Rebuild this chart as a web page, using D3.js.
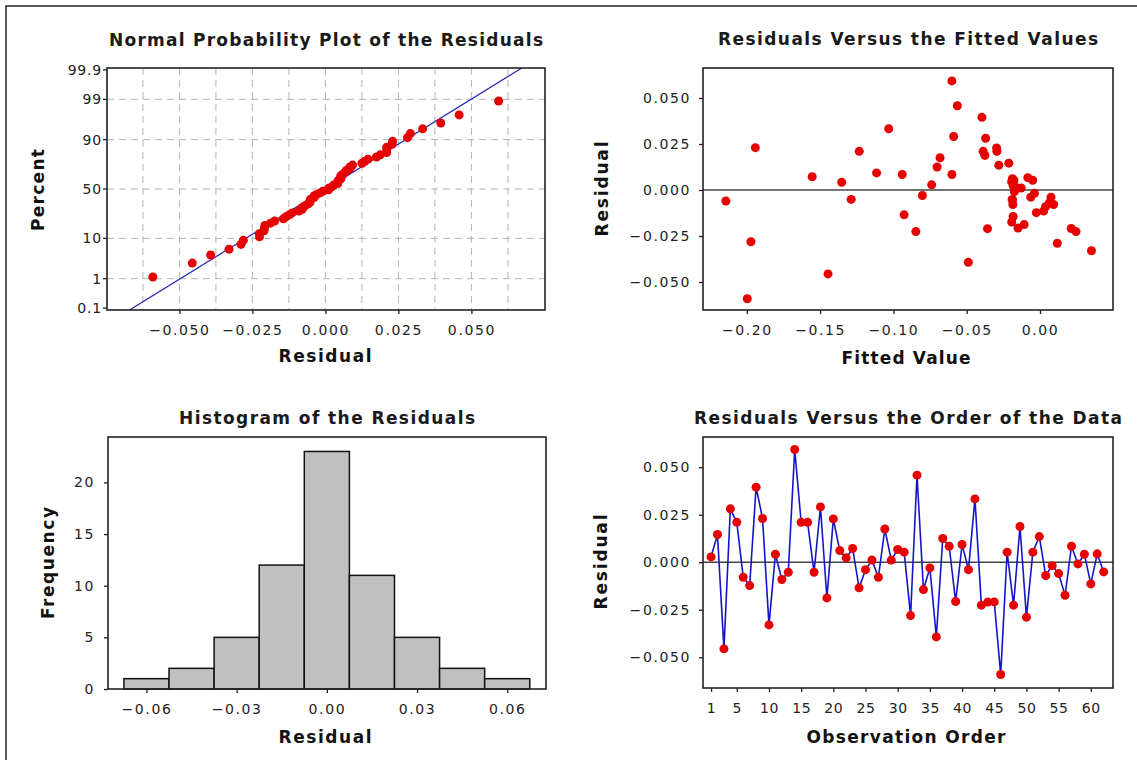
<!DOCTYPE html>
<html>
<head>
<meta charset="utf-8">
<script src="https://cdn.jsdelivr.net/npm/d3@7"></script>
<style>
  body { margin: 0; background: #fff; }
  svg { display: block; font-family: "DejaVu Sans", Verdana, sans-serif; }
  .tick line { stroke: #222; stroke-width: 1.3; }
  .title { font-size: 17px; font-weight: bold; fill: #1a1a1a; }
  .alabel { font-size: 17px; font-weight: bold; fill: #111; }
</style>
</head>
<body>
<svg id="chart" width="1137" height="760"></svg>
<script>
// residuals in observation order
const residuals = [
  0.0028, 0.0146, -0.0456, 0.0281, 0.0210, -0.0079, -0.0123, 0.0395, 0.0230, -0.0330,
  0.0042, -0.0091, -0.0053, 0.0593, 0.0210, 0.0210, -0.0053, 0.0291, -0.0188, 0.0228,
  0.0061, 0.0023, 0.0072, -0.0135, -0.0039, 0.0011, -0.0079, 0.0175, 0.0011, 0.0067,
  0.0053, -0.0281, 0.0458, -0.0144, -0.0030, -0.0393, 0.0125, 0.0084, -0.0207, 0.0093,
  -0.0039, 0.0333, -0.0226, -0.0210, -0.0209, -0.0591, 0.0053, -0.0226, 0.0188, -0.0289,
  0.0053, 0.0135, -0.0070, -0.0018, -0.0060, -0.0174, 0.0084, -0.0009, 0.0042, -0.0114,
  0.0044, -0.0051
];

// fitted values, same order
const fitted = [
  -0.0739, -0.0213, -0.1446, -0.0371, -0.0388, -0.0185, -0.0025, -0.0396, -0.1942, 0.0351,
  -0.1353, 0.0038, -0.0188, -0.0601, -0.1233, -0.0294, -0.0190, -0.0589, -0.0108, -0.0296,
  -0.0188, -0.0183, -0.1554, -0.0927, -0.0063, -0.0153, 0.0093, -0.0682, -0.0128, -0.0083,
  -0.0190, -0.1972, -0.0564, -0.0183, -0.0802, -0.0489, -0.0702, -0.0940, -0.0150, -0.1115,
  0.0075, -0.1032, 0.0246, -0.0358, 0.0213, -0.1997, -0.0050, -0.0847, -0.0376, 0.0118,
  -0.0178, -0.0281, 0.0063, -0.0038, -0.2143, -0.0193, -0.0601, -0.0175, -0.0185, 0.0025,
  -0.0193, -0.1288
];

const percentTicks = [0.1, 1, 10, 50, 90, 99, 99.9];
const percentGrid = [1, 10, 50, 90, 99];
const nppResidualTicks = [-0.05, -0.025, 0, 0.025, 0.05];
const nppResidualGrid = [-0.0625, -0.05, -0.0375, -0.025, -0.0125, 0, 0.0125, 0.025, 0.0375, 0.05, 0.0625];
const histBinEdges = [-0.0675, -0.0525, -0.0375, -0.0225, -0.0075, 0.0075, 0.0225, 0.0375, 0.0525, 0.0675];
const histTicks = [-0.06, -0.03, 0, 0.03, 0.06];
const freqTicks = [0, 5, 10, 15, 20];
const fittedTicks = [-0.2, -0.15, -0.1, -0.05, 0];
const residualTicks = [-0.05, -0.025, 0, 0.025, 0.05];
const orderTicks = [1, 5, 10, 15, 20, 25, 30, 35, 40, 45, 50, 55, 60];

// inverse normal cdf (Acklam)
function normInv(p) {
  const a = [-3.969683028665376e+01, 2.209460984245205e+02, -2.759285104469687e+02, 1.383577518672690e+02, -3.066479806614716e+01, 2.506628277459239e+00];
  const b = [-5.447609879822406e+01, 1.615858368580409e+02, -1.556989798598866e+02, 6.680131188771972e+01, -1.328068155288572e+01];
  const c = [-7.784894002430293e-03, -3.223964580411365e-01, -2.400758277161838e+00, -2.549732539343734e+00, 4.374664141464968e+00, 2.938163982698783e+00];
  const d = [7.784695709041462e-03, 3.224671290700398e-01, 2.445134137142996e+00, 3.754408661907416e+00];
  const pl = 0.02425;
  let q, r;
  if (p < pl) {
    q = Math.sqrt(-2 * Math.log(p));
    return (((((c[0]*q+c[1])*q+c[2])*q+c[3])*q+c[4])*q+c[5]) / ((((d[0]*q+d[1])*q+d[2])*q+d[3])*q+1);
  }
  if (p > 1 - pl) {
    q = Math.sqrt(-2 * Math.log(1 - p));
    return -(((((c[0]*q+c[1])*q+c[2])*q+c[3])*q+c[4])*q+c[5]) / ((((d[0]*q+d[1])*q+d[2])*q+d[3])*q+1);
  }
  q = p - 0.5; r = q * q;
  return (((((a[0]*r+a[1])*r+a[2])*r+a[3])*r+a[4])*r+a[5])*q / (((((b[0]*r+b[1])*r+b[2])*r+b[3])*r+b[4])*r+1);
}

const RED = '#e60000';
const svg = d3.select('#chart');

// outer frame (only top/left visible)
svg.append('rect')
  .attr('x', 6).attr('y', 6).attr('width', 1300).attr('height', 900)
  .attr('fill', 'none').attr('stroke', '#222').attr('stroke-width', 1.5);

function styleTicks(g) {
  g.selectAll('text')
    .attr('font-family', '"DejaVu Sans", Verdana, sans-serif')
    .style('font-size', '14px')
    .style('letter-spacing', '1.6px')
    .attr('fill', '#222');
}
function titleText(cx, cy, txt, len) {
  svg.append('text').attr('class', 'title')
    .attr('x', cx).attr('y', cy).attr('dy', '0.36em')
    .attr('text-anchor', 'middle')
    .attr('textLength', len).attr('lengthAdjust', 'spacing')
    .text(txt);
}
function xLabel(cx, cy, txt, len) {
  svg.append('text').attr('class', 'alabel')
    .attr('x', cx).attr('y', cy).attr('dy', '0.36em')
    .attr('text-anchor', 'middle')
    .attr('textLength', len).attr('lengthAdjust', 'spacing')
    .text(txt);
}
function yLabel(cx, cy, txt, len) {
  svg.append('text').attr('class', 'alabel')
    .attr('transform', `translate(${cx},${cy}) rotate(-90)`)
    .attr('dy', '0.36em')
    .attr('text-anchor', 'middle')
    .attr('textLength', len).attr('lengthAdjust', 'spacing')
    .text(txt);
}
function frame(b) {
  svg.append('rect')
    .attr('x', b.x0).attr('y', b.y0)
    .attr('width', b.x1 - b.x0).attr('height', b.y1 - b.y0)
    .attr('fill', 'none').attr('stroke', '#222').attr('stroke-width', 1.6);
}
function bottomAxis(b, scale, ticks, fmt) {
  svg.append('g')
    .attr('transform', `translate(0,${b.y1})`)
    .call(d3.axisBottom(scale).tickValues(ticks).tickFormat(fmt).tickSizeInner(4).tickSizeOuter(0).tickPadding(11))
    .call(g => g.select('.domain').remove())
    .call(styleTicks);
}
function leftAxis(b, scale, ticks, fmt, pad) {
  svg.append('g')
    .attr('transform', `translate(${b.x0},0)`)
    .call(d3.axisLeft(scale).tickValues(ticks).tickFormat(fmt).tickSizeInner(4).tickSizeOuter(0).tickPadding(pad))
    .call(g => g.select('.domain').remove())
    .call(styleTicks);
}

// ---------- Normal probability plot ----------
{
  const b = { x0: 107, x1: 545, y0: 68, y1: 310 };
  const x = d3.scaleLinear().domain([-0.0748, 0.0752]).range([b.x0, b.x1]);
  const y = d3.scaleLinear().domain([-3.14, 3.14]).range([b.y1, b.y0]);
  const n = residuals.length;
  const sorted = residuals.slice().sort(d3.ascending);
  const pts = sorted.map((r, i) => ({ r, z: normInv((i + 1 - 0.3) / (n + 0.4)) }));
  const mean = d3.mean(residuals), sd = d3.deviation(residuals);

  const grid = svg.append('g').attr('stroke', '#b4b4b4').attr('stroke-width', 1).attr('stroke-dasharray', '7,5');
  grid.selectAll('.vg').data(nppResidualGrid).join('line')
    .attr('x1', d => x(d)).attr('x2', d => x(d)).attr('y1', b.y0).attr('y2', b.y1);
  grid.selectAll('.hg').data(percentGrid).join('line')
    .attr('x1', b.x0).attr('x2', b.x1)
    .attr('y1', d => y(normInv(d / 100))).attr('y2', d => y(normInv(d / 100)));

  const zs = y.domain();
  svg.append('line')
    .attr('x1', x(mean + sd * zs[0])).attr('y1', y(zs[0]))
    .attr('x2', x(mean + sd * zs[1])).attr('y2', y(zs[1]))
    .attr('stroke', '#2a2ab4').attr('stroke-width', 1.3);

  svg.append('g').selectAll('circle').data(pts).join('circle')
    .attr('cx', d => x(d.r)).attr('cy', d => y(d.z)).attr('r', 4.5).attr('fill', RED);

  frame(b);
  bottomAxis(b, x, nppResidualTicks, d3.format('.3f'));
  // percent axis: ticks placed through the normal quantile of each percentage
  const py = svg.append('g').attr('transform', `translate(${b.x0},0)`);
  py.selectAll('g').data(percentTicks).join('g')
    .attr('class', 'tick')
    .attr('transform', d => `translate(0,${y(normInv(d / 100))})`)
    .call(g => g.append('line').attr('x2', -4))
    .call(g => g.append('text').attr('x', -5).attr('dy', '0.36em').attr('text-anchor', 'end').text(d => String(d)));
  styleTicks(py);
  py.selectAll('text').style('letter-spacing', '0.8px');

  titleText((b.x0 + b.x1) / 2, 40, 'Normal Probability Plot of the Residuals', 434);
  xLabel(325, 356, 'Residual', 93);
  yLabel(38, 190, 'Percent', 82);
}

// ---------- Residuals vs fitted ----------
{
  const b = { x0: 703, x1: 1113, y0: 68, y1: 310 };
  const x = d3.scaleLinear().domain([-0.2299, 0.0498]).range([b.x0, b.x1]);
  const y = d3.scaleLinear().domain([-0.0652, 0.0663]).range([b.y1, b.y0]);

  svg.append('line').attr('x1', b.x0).attr('x2', b.x1).attr('y1', y(0)).attr('y2', y(0))
    .attr('stroke', '#444').attr('stroke-width', 1.5);
  svg.append('g').selectAll('circle').data(residuals.map((r, i) => ({ r, f: fitted[i] }))).join('circle')
    .attr('cx', d => x(d.f)).attr('cy', d => y(d.r)).attr('r', 4.5).attr('fill', RED);

  frame(b);
  bottomAxis(b, x, fittedTicks, d3.format('.2f'));
  leftAxis(b, y, residualTicks, d3.format('.3f'), 8);
  titleText((b.x0 + b.x1) / 2, 39, 'Residuals Versus the Fitted Values', 380);
  xLabel(906, 358, 'Fitted Value', 129);
  yLabel(602, 189, 'Residual', 95);
}

// ---------- Histogram ----------
{
  const b = { x0: 108, x1: 546, y0: 437, y1: 689 };
  const x = d3.scaleLinear().domain([-0.0728, 0.0729]).range([b.x0, b.x1]);
  const y = d3.scaleLinear().domain([0, 24.4]).range([b.y1, b.y0]);
  const bins = d3.bin()
    .domain([histBinEdges[0], histBinEdges[histBinEdges.length - 1]])
    .thresholds(histBinEdges.slice(1, -1))(residuals);

  svg.append('g').selectAll('rect').data(bins).join('rect')
    .attr('x', d => x(d.x0)).attr('width', d => x(d.x1) - x(d.x0))
    .attr('y', d => y(d.length)).attr('height', d => y(0) - y(d.length))
    .attr('fill', '#c0c0c0').attr('stroke', '#111').attr('stroke-width', 1.5);

  frame(b);
  bottomAxis(b, x, histTicks, d3.format('.2f'));
  leftAxis(b, y, freqTicks, d3.format('d'), 9);
  titleText((b.x0 + b.x1) / 2, 418, 'Histogram of the Residuals', 296);
  xLabel(325, 737, 'Residual', 93);
  yLabel(48, 563, 'Frequency', 112);
}

// ---------- Residuals vs order ----------
{
  const b = { x0: 703, x1: 1113, y0: 437, y1: 688 };
  const x = d3.scaleLinear().domain([-0.25, 63.45]).range([b.x0, b.x1]);
  const y = d3.scaleLinear().domain([-0.0662, 0.0659]).range([b.y1, b.y0]);
  const pts = residuals.map((r, i) => ({ r, o: i + 1 }));

  svg.append('line').attr('x1', b.x0).attr('x2', b.x1).attr('y1', y(0)).attr('y2', y(0))
    .attr('stroke', '#444').attr('stroke-width', 1.5);
  svg.append('path').datum(pts)
    .attr('d', d3.line().x(d => x(d.o)).y(d => y(d.r)))
    .attr('fill', 'none').attr('stroke', '#1414c8').attr('stroke-width', 1.6);
  svg.append('g').selectAll('circle').data(pts).join('circle')
    .attr('cx', d => x(d.o)).attr('cy', d => y(d.r)).attr('r', 4.5).attr('fill', RED);

  frame(b);
  bottomAxis(b, x, orderTicks, d3.format('d'));
  leftAxis(b, y, residualTicks, d3.format('.3f'), 8);
  svg.selectAll('g').filter(function () { return this.getAttribute('transform') === `translate(0,${b.y1})`; })
    .selectAll('text').style('letter-spacing', '0.6px');
  titleText((b.x0 + b.x1) / 2, 418, 'Residuals Versus the Order of the Data', 428);
  xLabel(906, 737, 'Observation Order', 199);
  yLabel(601, 562, 'Residual', 95);
}
</script>
</body>
</html>
